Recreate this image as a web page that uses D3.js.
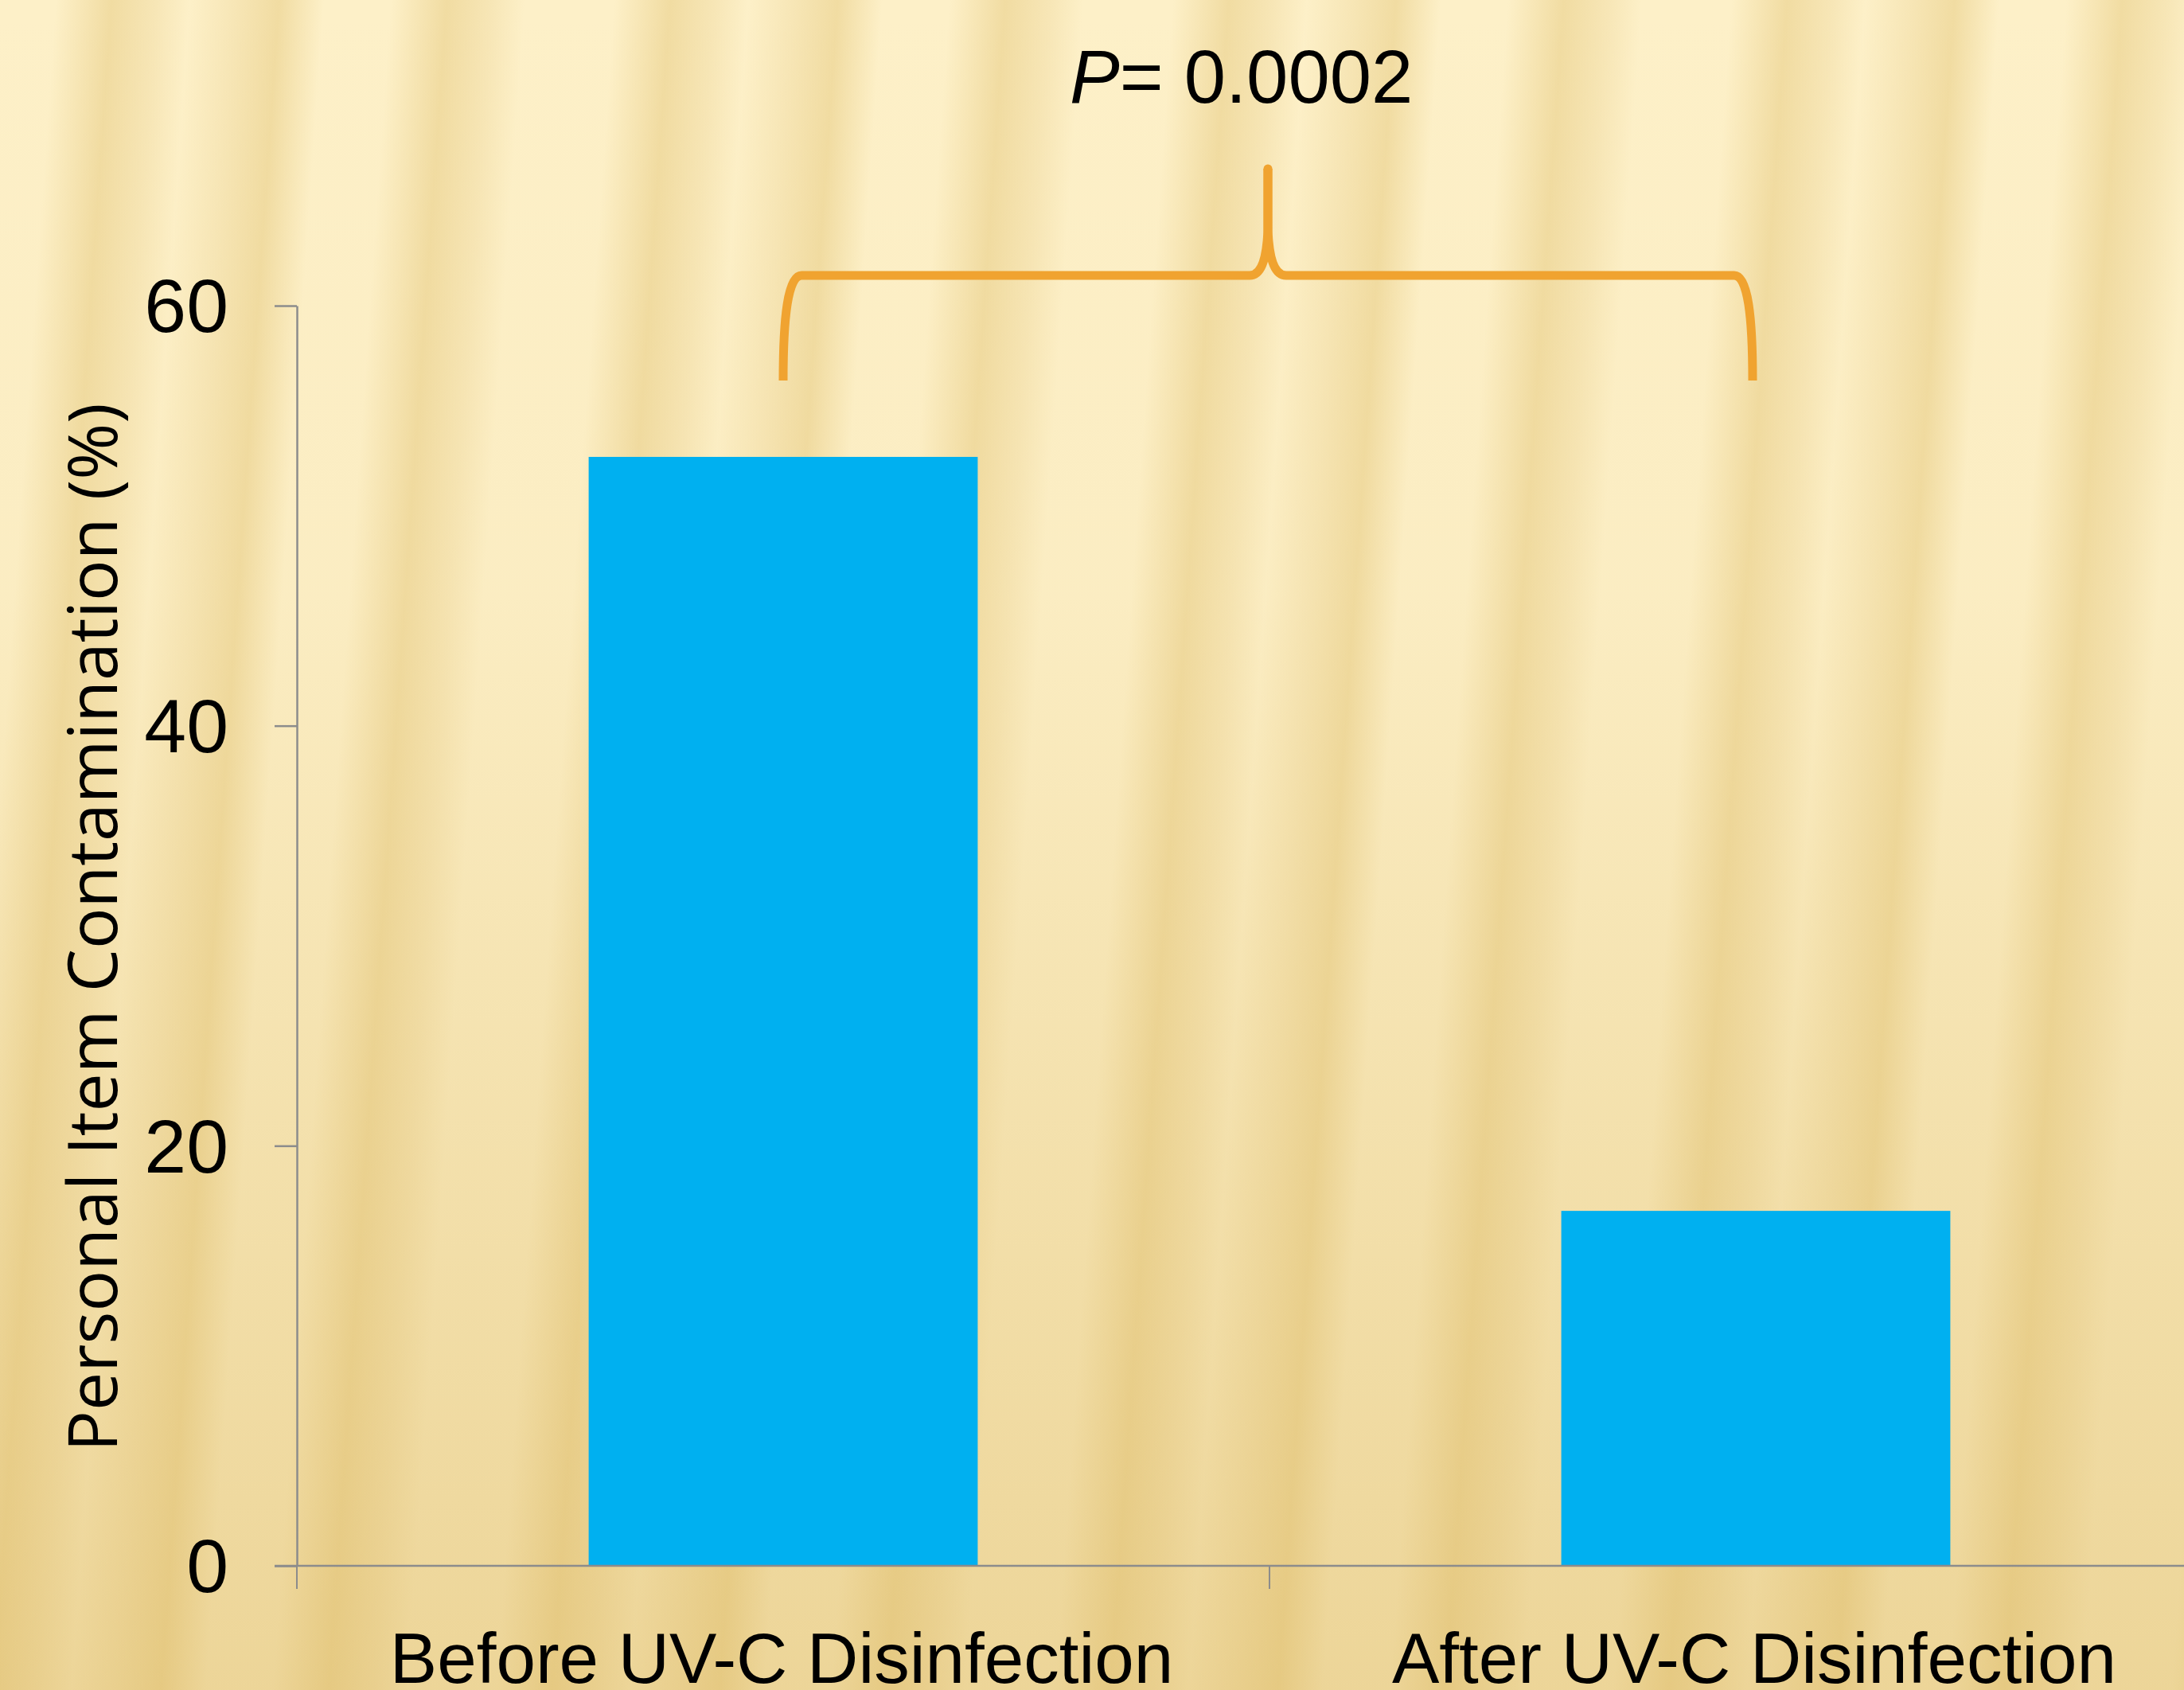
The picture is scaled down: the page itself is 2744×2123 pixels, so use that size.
<!DOCTYPE html>
<html><head><meta charset="utf-8">
<script src="https://cdn.jsdelivr.net/npm/d3@7"></script>
<style>body{margin:0;overflow:hidden;background:#fdf0c8}</style>
</head><body>
<svg id="c" width="2744" height="2123"></svg>
<script>
// ---- data ----
const categories = ["Before UV-C Disinfection", "After UV-C Disinfection"];
const values = [52.8, 16.9];
const yTicks = [0, 20, 40, 60];
const yTitle = "Personal Item Contamination (%)";
const pItalic = "P";
const pRest = "= 0.0002";

// ---- layout ----
const W = 2744, H = 2123;
const svg = d3.select("#c");
const defs = svg.append("defs");

// background stripes
const stripe = defs.append("linearGradient").attr("id", "stripes")
  .attr("gradientUnits", "userSpaceOnUse").attr("x1", 0).attr("y1", 0).attr("x2", 700).attr("y2", 0)
  .attr("spreadMethod", "repeat").attr("gradientTransform", "rotate(4)");
const L = "#fdf0c8", D = "#f1dca2", M = "#f7e6b6";
[[0, L], [0.10, L], [0.20, D], [0.28, M], [0.34, L], [0.42, M], [0.50, D], [0.58, L], [0.70, L], [0.80, D], [0.88, M], [0.94, L], [1, L]]
  .forEach(s => stripe.append("stop").attr("offset", s[0]).attr("stop-color", s[1]));
const shade = defs.append("linearGradient").attr("id", "shade").attr("x1", 0).attr("y1", 0).attr("x2", 0).attr("y2", 1);
[[0, "rgba(214,176,86,0)"], [0.35, "rgba(214,176,86,0.05)"], [0.7, "rgba(214,176,86,0.26)"], [1, "rgba(214,176,86,0.42)"]]
  .forEach(s => shade.append("stop").attr("offset", s[0]).attr("stop-color", s[1]));
svg.append("rect").attr("width", W).attr("height", H).attr("fill", "url(#stripes)");
svg.append("rect").attr("width", W).attr("height", H).attr("fill", "url(#shade)");

const x0 = 373, x1 = 2817, yBottom = 1967, yTop = 384;
const x = d3.scaleBand().domain(categories).range([x0, x1]).paddingInner(0.6).paddingOuter(0.3);
const y = d3.scaleLinear().domain([0, 60]).range([yBottom, yTop]);
const axisColor = "#8c8c8c";

// bars
svg.append("g").selectAll("rect").data(values).join("rect")
  .attr("x", (d, i) => x(categories[i]))
  .attr("width", x.bandwidth())
  .attr("y", d => y(d))
  .attr("height", d => y(0) - y(d))
  .attr("fill", "#00b0f0");

// y axis
const yAxis = d3.axisLeft(y).tickValues(yTicks).tickSize(28).tickSizeOuter(0).tickFormat("");
const gy = svg.append("g").attr("transform", `translate(${x0},0)`).call(yAxis);
gy.selectAll("path,line").attr("stroke", axisColor).attr("stroke-width", 2.5);
svg.append("g").selectAll("text").data(yTicks).join("text")
  .attr("x", 287).attr("y", d => y(d)).attr("dy", "0.35em")
  .attr("text-anchor", "end")
  .attr("font-family", "Liberation Sans, Arial, sans-serif").attr("font-size", 95)
  .attr("fill", "#000").text(d => d);

// x axis line and boundary ticks
svg.append("line").attr("x1", x0 - 28).attr("x2", x1).attr("y1", y(0)).attr("y2", y(0))
  .attr("stroke", axisColor).attr("stroke-width", 2.5);
const bounds = d3.range(categories.length + 1).map(i => x0 + i * x.step());
svg.append("g").selectAll("line").data(bounds).join("line")
  .attr("x1", d => d).attr("x2", d => d).attr("y1", y(0)).attr("y2", y(0) + 29)
  .attr("stroke", axisColor).attr("stroke-width", 2);

// category labels
svg.append("g").selectAll("text").data(categories).join("text")
  .attr("x", d => x(d) + x.bandwidth() / 2 - 2).attr("y", 2114)
  .attr("text-anchor", "middle")
  .attr("font-family", "Liberation Sans, Arial, sans-serif").attr("font-size", 89)
  .attr("fill", "#000").text(d => d);

// y title
svg.append("text").attr("transform", "translate(147,1165) rotate(-90)")
  .attr("text-anchor", "middle")
  .attr("font-family", "Open Sans, sans-serif").attr("font-size", 86)
  .attr("fill", "#000").text(yTitle);

// brace
const xl = x(categories[0]) + x.bandwidth() / 2;
const xr = x(categories[1]) + x.bandwidth() / 2 - 4;
const xm = bounds[1] - 2;
const yb = 478, yh = 346, yt = 212;
const half = (xe, s) =>
  `M${xe},${yb} C${xe},${yb - 80} ${xe + s * 6},${yh} ${xe + s * 23},${yh} ` +
  `L${xm - s * 23},${yh} C${xm - s * 10},${yh} ${xm - s * 2},${yh - 16} ${xm},${yh - 56} L${xm},${yt}`;
const braceColor = "#f0a330";
svg.append("path").attr("d", half(xl, 1)).attr("fill", "none")
  .attr("stroke", braceColor).attr("stroke-width", 11).attr("stroke-linejoin", "round");
svg.append("path").attr("d", half(xr, -1)).attr("fill", "none")
  .attr("stroke", braceColor).attr("stroke-width", 11).attr("stroke-linejoin", "round");
svg.append("circle").attr("cx", xm).attr("cy", yt).attr("r", 5.5).attr("fill", braceColor);

// P value
const pt = svg.append("text").attr("x", 1344).attr("y", 129)
  .attr("font-family", "Liberation Sans, Arial, sans-serif").attr("font-size", 94).attr("fill", "#000");
pt.append("tspan").attr("font-style", "italic").text(pItalic);
pt.append("tspan").text(pRest);
</script>
</body></html>
